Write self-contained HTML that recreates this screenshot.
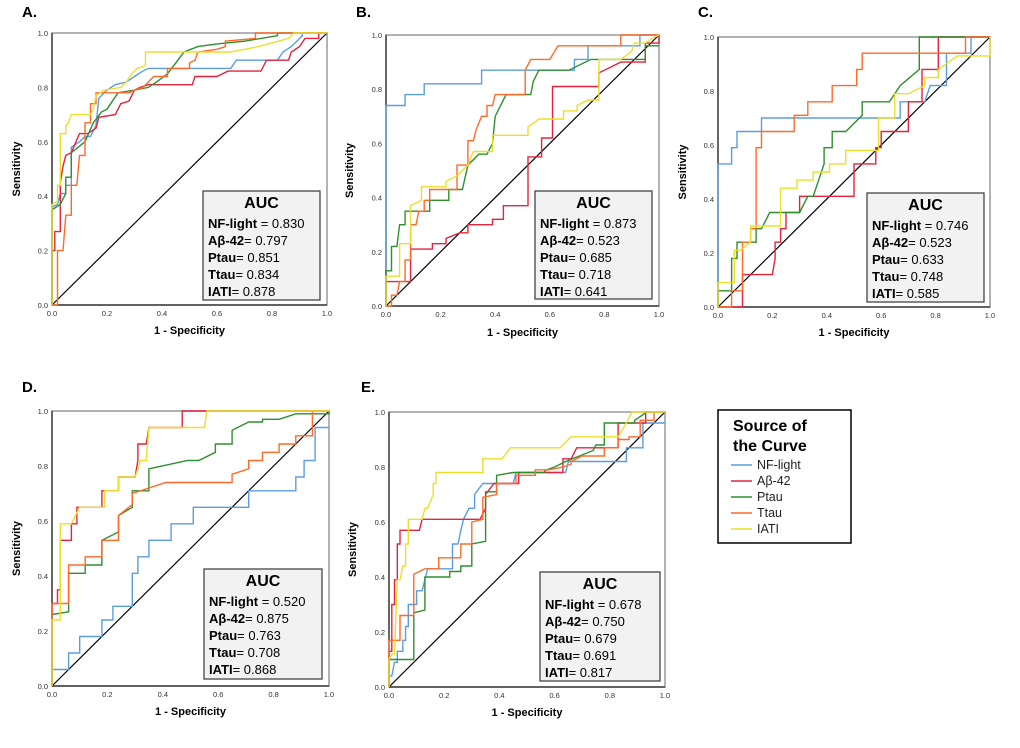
<!DOCTYPE html>
<html><head><meta charset="utf-8"><style>
html,body{margin:0;padding:0;background:#fff;width:1020px;height:748px;overflow:hidden}
svg{font-family:"Liberation Sans",sans-serif}
</style></head><body>
<svg id="fig" width="1020" height="748"></svg>
<script>
const tickLabels=["0.0","0.2","0.4","0.6","0.8","1.0"];
const tickValues=[0,0.2,0.4,0.6,0.8,1];
const seriesNames=["NF-light","Aβ-42","Ptau","Ttau","IATI"];
const seriesColors=["#5b9ee0","#e3243e","#2f8f2f","#ff6a2a","#ecdf2c"];
const A_auc=["0.830","0.797","0.851","0.834","0.878"];
const B_auc=["0.873","0.523","0.685","0.718","0.641"];
const C_auc=["0.746","0.523","0.633","0.748","0.585"];
const D_auc=["0.520","0.875","0.763","0.708","0.868"];
const E_auc=["0.678","0.750","0.679","0.691","0.817"];
const A_nfl=[[0,0],[0,0.36],[0.02,0.37],[0.03,0.41],[0.05,0.41],[0.05,0.44],[0.07,0.44],[0.07,0.58],[0.1,0.6],[0.12,0.62],[0.14,0.62],[0.16,0.66],[0.17,0.76],[0.2,0.79],[0.23,0.81],[0.27,0.82],[0.3,0.84],[0.33,0.86],[0.35,0.87],[0.65,0.87],[0.67,0.9],[0.82,0.9],[0.84,0.93],[0.87,0.95],[0.89,0.97],[0.91,0.99],[0.91,1],[1,1]];
const A_ab=[[0,0],[0,0.2],[0.01,0.2],[0.01,0.27],[0.03,0.27],[0.03,0.45],[0.04,0.51],[0.05,0.55],[0.07,0.56],[0.1,0.63],[0.13,0.63],[0.16,0.65],[0.17,0.69],[0.23,0.7],[0.25,0.74],[0.28,0.75],[0.3,0.79],[0.32,0.8],[0.35,0.81],[0.51,0.81],[0.52,0.84],[0.6,0.84],[0.64,0.86],[0.76,0.86],[0.78,0.9],[0.86,0.9],[0.87,0.93],[0.9,0.95],[0.92,0.98],[0.97,0.98],[0.97,1],[1,1]];
const A_pt=[[0,0],[0,0.35],[0.03,0.37],[0.05,0.41],[0.05,0.47],[0.07,0.47],[0.07,0.56],[0.12,0.6],[0.15,0.67],[0.18,0.71],[0.2,0.72],[0.24,0.78],[0.3,0.79],[0.35,0.8],[0.38,0.82],[0.42,0.85],[0.45,0.89],[0.48,0.93],[0.53,0.95],[0.6,0.96],[0.7,0.97],[0.76,0.98],[0.82,0.99],[0.82,1],[1,1]];
const A_tt=[[0,0],[0.02,0],[0.02,0.2],[0.04,0.2],[0.05,0.33],[0.07,0.33],[0.07,0.44],[0.09,0.44],[0.1,0.55],[0.12,0.55],[0.12,0.67],[0.14,0.67],[0.14,0.74],[0.16,0.74],[0.16,0.78],[0.28,0.78],[0.3,0.79],[0.33,0.8],[0.35,0.82],[0.37,0.84],[0.42,0.84],[0.42,0.87],[0.5,0.87],[0.5,0.89],[0.52,0.9],[0.53,0.93],[0.6,0.94],[0.63,0.95],[0.63,0.97],[0.74,0.98],[0.74,1],[1,1]];
const A_ia=[[0,0],[0,0.37],[0.02,0.38],[0.02,0.44],[0.03,0.44],[0.03,0.63],[0.05,0.63],[0.05,0.66],[0.06,0.67],[0.07,0.7],[0.14,0.7],[0.15,0.72],[0.16,0.77],[0.19,0.79],[0.25,0.8],[0.27,0.82],[0.29,0.85],[0.31,0.87],[0.34,0.88],[0.34,0.93],[0.65,0.93],[0.75,0.95],[0.86,0.98],[0.88,1],[1,1]];
const B_nfl=[[0,0],[0,0.74],[0.07,0.74],[0.07,0.78],[0.14,0.78],[0.14,0.82],[0.35,0.82],[0.35,0.87],[0.69,0.87],[0.69,0.91],[0.74,0.91],[0.74,0.96],[0.93,0.96],[0.93,1],[1,1]];
const B_ab=[[0,0],[0,0.09],[0.09,0.09],[0.09,0.21],[0.17,0.21],[0.17,0.23],[0.22,0.23],[0.22,0.25],[0.27,0.27],[0.3,0.27],[0.3,0.3],[0.39,0.3],[0.39,0.32],[0.43,0.32],[0.43,0.37],[0.52,0.37],[0.52,0.55],[0.57,0.55],[0.57,0.62],[0.61,0.62],[0.61,0.81],[0.78,0.81],[0.78,0.86],[0.82,0.88],[0.86,0.9],[0.95,0.9],[0.95,0.97],[1,0.97],[1,1]];
const B_pt=[[0,0],[0,0.13],[0.02,0.13],[0.02,0.22],[0.04,0.22],[0.05,0.3],[0.07,0.3],[0.07,0.35],[0.16,0.35],[0.16,0.39],[0.23,0.39],[0.23,0.43],[0.28,0.43],[0.3,0.52],[0.34,0.56],[0.37,0.56],[0.39,0.6],[0.4,0.7],[0.44,0.78],[0.53,0.78],[0.54,0.83],[0.56,0.87],[0.67,0.87],[0.75,0.91],[0.95,0.91],[0.95,0.96],[1,0.96]];
const B_tt=[[0,0],[0.02,0],[0.02,0.04],[0.04,0.04],[0.05,0.09],[0.07,0.09],[0.07,0.17],[0.09,0.17],[0.09,0.3],[0.11,0.3],[0.12,0.35],[0.14,0.35],[0.14,0.39],[0.16,0.39],[0.16,0.43],[0.26,0.43],[0.26,0.52],[0.3,0.52],[0.3,0.61],[0.32,0.61],[0.33,0.65],[0.35,0.7],[0.37,0.7],[0.37,0.74],[0.39,0.74],[0.4,0.78],[0.51,0.78],[0.51,0.87],[0.53,0.91],[0.6,0.91],[0.63,0.96],[0.86,0.96],[0.86,1],[1,1]];
const B_ia=[[0,0],[0,0.11],[0.05,0.11],[0.05,0.23],[0.09,0.23],[0.09,0.37],[0.13,0.39],[0.13,0.44],[0.22,0.44],[0.22,0.46],[0.26,0.48],[0.3,0.52],[0.32,0.57],[0.39,0.57],[0.39,0.63],[0.52,0.63],[0.52,0.66],[0.56,0.69],[0.65,0.69],[0.65,0.72],[0.7,0.72],[0.7,0.74],[0.74,0.76],[0.78,0.76],[0.78,0.91],[0.86,0.91],[0.9,0.94],[0.91,0.97],[0.95,0.97],[0.98,0.99],[1,1]];
const C_nfl=[[0,0],[0,0.53],[0.05,0.53],[0.05,0.59],[0.07,0.59],[0.07,0.65],[0.16,0.65],[0.16,0.7],[0.67,0.7],[0.67,0.76],[0.76,0.76],[0.78,0.82],[0.84,0.82],[0.84,0.94],[0.93,0.94],[0.93,1],[1,1]];
const C_ab=[[0,0],[0.09,0],[0.09,0.12],[0.2,0.12],[0.21,0.18],[0.21,0.24],[0.23,0.24],[0.23,0.29],[0.25,0.29],[0.25,0.35],[0.3,0.35],[0.3,0.41],[0.5,0.41],[0.5,0.53],[0.58,0.53],[0.58,0.59],[0.6,0.59],[0.6,0.65],[0.7,0.65],[0.7,0.76],[0.75,0.76],[0.75,0.88],[0.81,0.88],[0.81,1],[1,1]];
const C_pt=[[0,0],[0,0.06],[0.05,0.06],[0.05,0.18],[0.07,0.18],[0.07,0.24],[0.14,0.24],[0.14,0.29],[0.16,0.29],[0.19,0.35],[0.3,0.35],[0.33,0.41],[0.35,0.41],[0.39,0.53],[0.39,0.59],[0.42,0.59],[0.42,0.65],[0.47,0.65],[0.53,0.71],[0.53,0.76],[0.63,0.76],[0.67,0.82],[0.74,0.88],[0.74,1],[1,1]];
const C_tt=[[0,0],[0.05,0],[0.05,0.06],[0.09,0.06],[0.09,0.24],[0.12,0.24],[0.12,0.29],[0.14,0.29],[0.14,0.59],[0.16,0.59],[0.16,0.65],[0.28,0.65],[0.28,0.71],[0.33,0.71],[0.33,0.76],[0.42,0.76],[0.42,0.82],[0.51,0.82],[0.51,0.88],[0.53,0.88],[0.53,0.94],[0.91,0.94],[0.91,1],[1,1]];
const C_ia=[[0,0],[0,0.09],[0.06,0.09],[0.06,0.21],[0.08,0.21],[0.12,0.24],[0.12,0.3],[0.23,0.3],[0.23,0.44],[0.29,0.44],[0.29,0.47],[0.35,0.47],[0.35,0.5],[0.41,0.5],[0.41,0.53],[0.47,0.53],[0.47,0.58],[0.59,0.58],[0.59,0.7],[0.65,0.7],[0.65,0.79],[0.7,0.79],[0.76,0.82],[0.76,0.85],[0.81,0.85],[0.81,0.88],[0.88,0.93],[1,0.93],[1,1]];
const D_nfl=[[0,0],[0,0.06],[0.06,0.06],[0.06,0.12],[0.1,0.12],[0.1,0.18],[0.18,0.18],[0.18,0.24],[0.22,0.24],[0.22,0.29],[0.29,0.29],[0.29,0.41],[0.31,0.41],[0.31,0.47],[0.35,0.47],[0.35,0.53],[0.43,0.53],[0.43,0.59],[0.51,0.59],[0.51,0.65],[0.71,0.65],[0.71,0.71],[0.88,0.71],[0.88,0.76],[0.91,0.76],[0.91,0.82],[0.95,0.82],[0.95,0.94],[1,0.94]];
const D_ab=[[0,0],[0,0.3],[0.02,0.3],[0.02,0.35],[0.03,0.35],[0.03,0.53],[0.07,0.53],[0.07,0.59],[0.09,0.59],[0.09,0.65],[0.18,0.65],[0.18,0.71],[0.24,0.71],[0.24,0.76],[0.3,0.76],[0.31,0.82],[0.31,0.88],[0.34,0.88],[0.35,0.94],[0.47,0.94],[0.47,1],[1,1]];
const D_pt=[[0,0],[0,0.26],[0.06,0.27],[0.06,0.41],[0.12,0.41],[0.12,0.44],[0.18,0.44],[0.18,0.53],[0.24,0.56],[0.24,0.62],[0.29,0.65],[0.29,0.71],[0.35,0.71],[0.35,0.79],[0.49,0.82],[0.53,0.82],[0.59,0.85],[0.59,0.88],[0.65,0.88],[0.65,0.93],[0.71,0.96],[0.76,0.96],[0.76,0.97],[0.82,0.97],[0.88,0.99],[1,0.99],[1,1]];
const D_tt=[[0,0],[0,0.3],[0.06,0.3],[0.06,0.44],[0.12,0.44],[0.12,0.47],[0.18,0.47],[0.18,0.53],[0.24,0.53],[0.24,0.62],[0.29,0.66],[0.29,0.7],[0.35,0.72],[0.38,0.73],[0.41,0.74],[0.65,0.74],[0.65,0.77],[0.71,0.79],[0.71,0.82],[0.76,0.82],[0.76,0.85],[0.82,0.85],[0.82,0.88],[0.88,0.88],[0.88,0.91],[0.94,0.91],[0.94,1],[1,1]];
const D_ia=[[0,0],[0,0.24],[0.03,0.24],[0.03,0.59],[0.07,0.59],[0.1,0.65],[0.19,0.65],[0.19,0.71],[0.24,0.71],[0.24,0.76],[0.3,0.76],[0.32,0.82],[0.34,0.82],[0.35,0.94],[0.55,0.94],[0.56,1],[1,1]];
const E_nfl=[[0,0],[0,0.04],[0.01,0.04],[0.02,0.09],[0.03,0.09],[0.03,0.13],[0.05,0.13],[0.05,0.17],[0.06,0.17],[0.06,0.22],[0.07,0.22],[0.07,0.3],[0.1,0.3],[0.1,0.35],[0.12,0.35],[0.14,0.43],[0.23,0.43],[0.23,0.52],[0.25,0.52],[0.26,0.57],[0.27,0.61],[0.29,0.65],[0.31,0.65],[0.31,0.7],[0.34,0.74],[0.45,0.74],[0.46,0.78],[0.64,0.78],[0.65,0.82],[0.86,0.82],[0.86,0.87],[0.92,0.87],[0.92,0.96],[1,0.96]];
const E_ab=[[0,0],[0,0.13],[0.01,0.13],[0.01,0.3],[0.02,0.3],[0.02,0.39],[0.03,0.39],[0.03,0.52],[0.04,0.52],[0.04,0.57],[0.11,0.57],[0.12,0.61],[0.33,0.61],[0.35,0.65],[0.35,0.7],[0.38,0.74],[0.47,0.74],[0.47,0.78],[0.63,0.78],[0.63,0.83],[0.66,0.83],[0.68,0.87],[0.83,0.87],[0.83,0.96],[0.93,0.96],[0.93,1],[1,1]];
const E_pt=[[0,0],[0,0.1],[0.09,0.1],[0.09,0.27],[0.13,0.28],[0.13,0.4],[0.22,0.4],[0.22,0.42],[0.26,0.42],[0.26,0.44],[0.3,0.44],[0.3,0.52],[0.35,0.53],[0.35,0.71],[0.39,0.71],[0.39,0.77],[0.45,0.78],[0.56,0.78],[0.57,0.79],[0.6,0.8],[0.64,0.82],[0.74,0.86],[0.75,0.88],[0.78,0.88],[0.78,0.96],[0.89,0.96],[0.89,0.97],[0.92,0.99],[0.93,1],[1,1]];
const E_tt=[[0,0],[0,0.17],[0.04,0.17],[0.04,0.26],[0.09,0.26],[0.09,0.41],[0.13,0.43],[0.18,0.43],[0.18,0.47],[0.26,0.47],[0.26,0.52],[0.3,0.52],[0.3,0.6],[0.34,0.61],[0.34,0.69],[0.39,0.7],[0.39,0.74],[0.46,0.74],[0.46,0.77],[0.53,0.77],[0.53,0.79],[0.58,0.79],[0.63,0.8],[0.66,0.81],[0.66,0.82],[0.7,0.84],[0.78,0.84],[0.78,0.87],[0.83,0.87],[0.83,0.9],[0.87,0.9],[0.87,0.91],[0.91,0.91],[0.91,0.97],[0.96,0.97],[0.96,1],[1,1]];
const E_ia=[[0,0],[0,0.1],[0.01,0.12],[0.02,0.12],[0.03,0.39],[0.04,0.39],[0.05,0.44],[0.06,0.44],[0.06,0.52],[0.07,0.52],[0.07,0.61],[0.12,0.61],[0.13,0.65],[0.14,0.65],[0.16,0.7],[0.16,0.74],[0.17,0.74],[0.17,0.78],[0.34,0.78],[0.34,0.83],[0.41,0.83],[0.44,0.87],[0.62,0.87],[0.66,0.91],[0.83,0.91],[0.86,0.96],[0.88,1],[1,1]];

const NS="http://www.w3.org/2000/svg";
const svg=document.getElementById('fig');
function mk(tag,attrs,parent,text){const e=document.createElementNS(NS,tag);for(const k in attrs)e.setAttribute(k,attrs[k]);if(text!==undefined)e.textContent=text;(parent||svg).appendChild(e);return e;}

const panels=[
 {id:"a",label:"A.",lx:22,ly:17,x0:52,x1:327,y0:305,y1:33,series:[A_nfl,A_ab,A_pt,A_tt,A_ia],auc:A_auc,box:[203,191,117,109],sx:20,xt:334},
 {id:"b",label:"B.",lx:356,ly:17,x0:386,x1:659,y0:306,y1:35,series:[B_nfl,B_ab,B_pt,B_tt,B_ia],auc:B_auc,box:[535,191,117,108],sx:353,xt:336},
 {id:"c",label:"C.",lx:698,ly:17,x0:718,x1:990,y0:307,y1:37,series:[C_nfl,C_ab,C_pt,C_tt,C_ia],auc:C_auc,box:[867,193,117,109],sx:686,xt:336},
 {id:"d",label:"D.",lx:22,ly:392,x0:52,x1:329,y0:686,y1:411,series:[D_nfl,D_ab,D_pt,D_tt,D_ia],auc:D_auc,box:[204,569,118,110],sx:20,xt:715},
 {id:"e",label:"E.",lx:361,ly:392,x0:389,x1:665,y0:687,y1:412,series:[E_nfl,E_ab,E_pt,E_tt,E_ia],auc:E_auc,box:[540,572,120,109],sx:356,xt:716}
];
const keys=["nf-light","abeta-42","ptau","ttau","iati"];

panels.forEach(p=>{
  const g=mk('g',{});
  
  
  const X=v=>p.x0+v*(p.x1-p.x0), Y=v=>p.y0+v*(p.y1-p.y0);
  const lab=mk('text',{x:p.lx,y:p.ly,'font-size':15,'font-weight':'bold',fill:'#000'},g,p.label);
  
  const fr=mk('rect',{x:p.x0,y:p.y1,width:p.x1-p.x0,height:p.y0-p.y1,fill:'#fff',stroke:'#9a9a9a','stroke-width':1.5},g);
  
  mk('line',{x1:p.x0,y1:p.y1,x2:p.x0,y2:p.y0,stroke:'#222','stroke-width':1.2},g);
  mk('line',{x1:p.x0,y1:p.y0,x2:p.x1,y2:p.y0,stroke:'#222','stroke-width':1.2},g);
  tickValues.forEach((t,i)=>{
    const tx=mk('text',{x:X(t),y:p.y0+11,'font-size':7.5,'text-anchor':'middle',fill:'#333'},g,tickLabels[i]);
    
    const ty=mk('text',{x:p.x0-4,y:Y(t)+3,'font-size':7.5,'text-anchor':'end',fill:'#333'},g,tickLabels[i]);
    
  });
  const xt=mk('text',{x:(p.x0+p.x1)/2,y:p.xt,'font-size':11,'font-weight':'bold','text-anchor':'middle'},g,'1 - Specificity');
  
  const cy=(p.y0+p.y1)/2;
  const yt=mk('text',{x:p.sx,y:cy,'font-size':11,'font-weight':'bold','text-anchor':'middle',transform:`rotate(-90 ${p.sx} ${cy})`},g,'Sensitivity');
  
  const ref=mk('line',{x1:X(0),y1:Y(0),x2:X(1),y2:Y(1),stroke:'#000','stroke-width':1.2},g);
  
  p.series.forEach((s,i)=>{
    const pts=s.map(d=>X(d[0]).toFixed(1)+','+Y(d[1]).toFixed(1)).join(' ');
    const pl=mk('polyline',{points:pts,fill:'none',stroke:seriesColors[i],'stroke-width':1.4},g);
    
    
  });
  const [bx,by,bw,bh]=p.box;
  const bg=mk('g',{},g);
  
  mk('rect',{x:bx,y:by,width:bw,height:bh,fill:'#f2f2f2',stroke:'#444','stroke-width':1.3},bg);
  mk('text',{x:bx+bw/2,y:by+17,'font-size':16,'font-weight':'bold','text-anchor':'middle'},bg,'AUC');
  const lbls=["NF-light","Aβ-42","Ptau","Ttau","IATI"], seps=[" = ","= ","= ","= ","= "];
  lbls.forEach((l,i)=>{
    const t=mk('text',{x:bx+5,y:by+37+i*17,'font-size':13},bg);
    const a=mk('tspan',{'font-weight':'bold'},t,l);
    mk('tspan',{},t,seps[i]+p.auc[i]);
    
    
  });
});

const lg=mk('g',{});


mk('rect',{x:718,y:410,width:133,height:133,fill:'#fff',stroke:'#000','stroke-width':1.5},lg);
mk('text',{x:733,y:431,'font-size':16,'font-weight':'bold'},lg,'Source of');
mk('text',{x:733,y:451,'font-size':16,'font-weight':'bold'},lg,'the Curve');
seriesNames.forEach((n,i)=>{
  const e=mk('g',{},lg);
  
  
  const y=465+i*16;
  mk('line',{x1:731,y1:y,x2:752,y2:y,stroke:seriesColors[i],'stroke-width':1.5},e);
  mk('text',{x:757,y:y+4,'font-size':12.5,fill:'#222'},e,n);
});
</script>
</body></html>
